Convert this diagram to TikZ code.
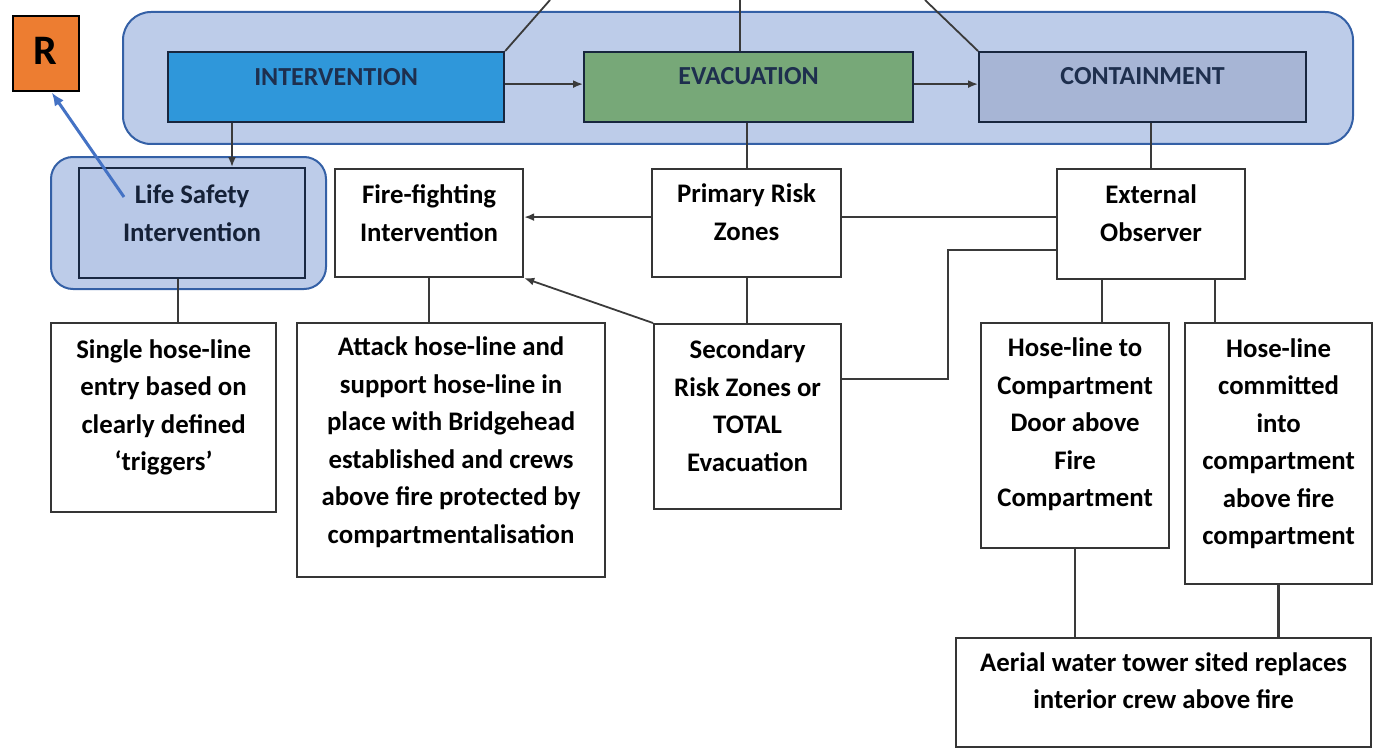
\documentclass[tikz,border=0pt]{standalone}
\usepackage{fontspec}
\setmainfont{Carlito}
\usetikzlibrary{arrows.meta}

\definecolor{panelfill}{HTML}{BDCCE9}
\definecolor{panelline}{HTML}{3460A6}
\definecolor{intvfill}{HTML}{2F97DA}
\definecolor{evacfill}{HTML}{77A878}
\definecolor{contfill}{HTML}{A7B5D5}
\definecolor{lsfill}{HTML}{B8C8E7}
\definecolor{headtext}{HTML}{1E2F4E}
\definecolor{boxline}{HTML}{353535}
\definecolor{linkgray}{HTML}{3A3A3A}
\definecolor{rfill}{HTML}{ED7D31}
\definecolor{pointer}{HTML}{4472C4}

\tikzset{
  panel/.style={draw=panelline, fill=panelfill, line width=2pt, rounded corners=28pt, anchor=north west, inner sep=0pt},
  box/.style={draw=boxline, fill=white, line width=2.2pt, anchor=north west, inner sep=0pt},
  headbox/.style={box, draw=headtext!80!black},
  txt/.style={font=\fontsize{26.8}{37.5}\selectfont\bfseries, align=center, text=black, inner sep=0pt},
  headtxt/.style={font=\fontsize{26}{30}\selectfont\bfseries, text=headtext, inner sep=0pt},
  link/.style={draw=linkgray, line width=1.8pt},
  heavylink/.style={draw=linkgray, line width=2.4pt},
  arr/.style={link, -{Latex[length=10pt,width=8pt]}},
  pointarr/.style={draw=pointer, line width=3pt, -{Latex[length=13pt,width=11pt]}}
}

\begin{document}
\begin{tikzpicture}[x=1pt, y=-1pt]
\useasboundingbox (0,0) rectangle (1373,749);

% top band holding the three strategies
\node[panel, minimum width=1230pt, minimum height=132pt] (band) at (122,11) {};
\node[headbox, fill=intvfill, minimum width=336pt, minimum height=70pt] (intv) at (167,51) {};
\node[headbox, fill=evacfill, minimum width=329pt, minimum height=70pt] (evac) at (583,51) {};
\node[headbox, fill=contfill, minimum width=327pt, minimum height=70pt] (cont) at (978,51) {};
\node[headtxt] (intvT) at ([yshift=10pt]intv.center) {INTERVENTION};
\node[headtxt] (evacT) at ([yshift=11pt]evac.center) {EVACUATION};
\node[headtxt] (contT) at ([yshift=11pt]cont.center) {CONTAINMENT};

% highlighted life safety branch
\node[panel, rounded corners=22pt, minimum width=275pt, minimum height=132pt] (lsh) at (50,156) {};
\node[box, fill=lsfill, draw=headtext!85!black, minimum width=226pt, minimum height=110pt] (ls) at (78,167) {};
\node[txt, text=headtext!70!black] (lsT) at ([yshift=10pt]ls.center) {Life Safety\\Intervention};

% R marker
\node[draw=black, fill=rfill, line width=1.6pt, anchor=north west, minimum width=66pt, minimum height=75pt, inner sep=0pt] (rbox) at (12,15) {};
\node[font=\fontsize{42}{42}\selectfont\bfseries, inner sep=0pt] (rT) at ([yshift=2pt]rbox.center) {R};

% second row
\node[box, minimum width=188pt, minimum height=108pt] (ff) at (334,168) {};
\node[txt] (ffT) at ([yshift=10pt]ff.center) {Fire-fighting\\Intervention};
\node[box, minimum width=189pt, minimum height=108pt] (prz) at (651,168) {};
\node[txt] (przT) at ([yshift=11pt]prz.center) {Primary Risk\\Zones};
\node[box, minimum width=188pt, minimum height=110pt] (ext) at (1056,168) {};
\node[txt] (extT) at ([yshift=11pt]ext.center) {External\\Observer};

% third row
\node[box, minimum width=225pt, minimum height=189pt] (sgl) at (50,322) {};
\node[txt] (sglT) at ([yshift=10pt]sgl.center) {Single hose-line\\entry based on\\clearly defined\\‘triggers’};
\node[box, minimum width=308pt, minimum height=254pt] (atk) at (296,322) {};
\node[txt] (atkT) at ([yshift=8pt]atk.center) {Attack hose-line and\\support hose-line in\\place with Bridgehead\\established and crews\\above fire protected by\\compartmentalisation};
\node[box, minimum width=187pt, minimum height=185pt] (sec) at (653,323) {};
\node[txt] (secT) at ([yshift=11pt]sec.center) {Secondary\\Risk Zones or\\TOTAL\\Evacuation};
\node[box, minimum width=188pt, minimum height=225pt] (hc) at (980,322) {};
\node[txt] (hcT) at ([yshift=11pt]hc.center) {Hose-line to\\Compartment\\Door above\\Fire\\Compartment};
\node[box, minimum width=187pt, minimum height=261pt] (hcm) at (1184,322) {};
\node[txt] (hcmT) at ([yshift=10pt]hcm.center) {Hose-line\\committed\\into\\compartment\\above fire\\compartment};

% bottom row
\node[box, minimum width=415pt, minimum height=109pt] (aer) at (955,637) {};
\node[txt] (aerT) at ([yshift=12pt]aer.center) {Aerial water tower sited replaces\\interior crew above fire};

% helper points
\coordinate (up1) at (550,0);
\coordinate (up2) at (740,0);
\coordinate (up3) at (925,0);
\coordinate (x232) at (232,0);
\coordinate (x178) at (178,0);
\coordinate (x1102) at (1102,0);
\coordinate (x1215) at (1215,0);
\coordinate (bend) at (948,250);
\coordinate (ptr) at (124,197);

% lines leaving the top of the figure
\draw[link] (intv.north east) -- (up1);
\draw[link] (up2) -- (up2 |- evac.north);
\draw[link] (cont.north west) -- (up3);

% flow along the top band
\draw[arr] ([yshift=3pt]intv.east) -- ([yshift=3pt]evac.west);
\draw[arr] ([yshift=3pt]evac.east) -- ([yshift=3pt]cont.west);
\draw[arr] (intv.south -| x232) -- (ls.north -| x232);
\draw[link] (prz.north) -- (prz.north |- evac.south);
\draw[link] (ext.north) -- (ext.north |- cont.south);

% second row links
\draw[arr] ([yshift=6pt]prz.west) -- ([yshift=6pt]ff.west -| ff.east);
\draw[link] ([yshift=6pt]prz.east) -- ([yshift=6pt]prz.east -| ext.west);
\draw[arr] (sec.north west) -- (ff.south east);
\draw[heavylink] ([yshift=37.5pt]sec.east) -| (bend) -- (bend -| ext.west);

% down to the third row
\draw[link] (ls.south -| x178) -- (sgl.north -| x178);
\draw[link] (ff.south) -- (ff.south |- atk.north);
\draw[link] (prz.south) -- (prz.south |- sec.north);
\draw[link] (ext.south -| x1102) -- (hc.north -| x1102);
\draw[link] (ext.south -| x1215) -- (hcm.north -| x1215);

% down to the aerial tower
\draw[heavylink] (hc.south) -- (hc.south |- aer.north);
\draw[heavylink] (hcm.south) -- (hcm.south |- aer.north);

% pointer to the R marker
\draw[pointarr] (ptr) -- ([xshift=6pt,yshift=-1pt]rbox.south);
\end{tikzpicture}
\end{document}
